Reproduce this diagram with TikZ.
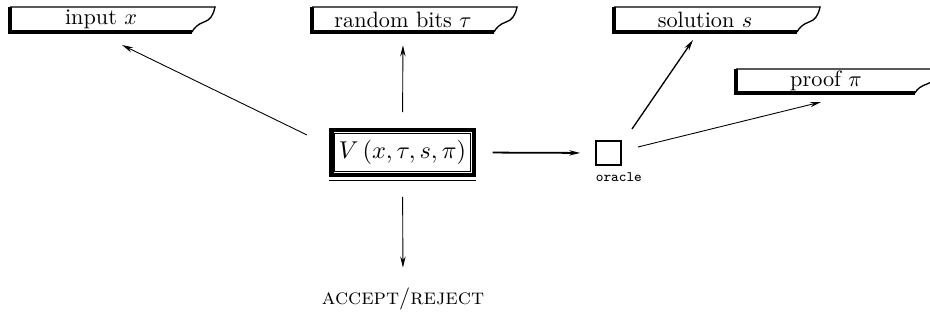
\documentclass[tikz,border=0pt]{standalone}
\usepackage{tikz}
\usepackage{amsmath}
\usetikzlibrary{arrows.meta}

% torn tape: left, right, top, bottom
\newcommand{\tapeshape}[4]{%
  \draw[semithick] (#1,#3) -- (#2,#3) .. controls (#2-2,#3+9) and (#2-5,#3+13) .. (#2-11,#3+15)
    .. controls (#2-17,#3+17) and (#2-21,#4-4) .. (#2-23,#4);
  \draw[line width=1.4pt] (#1,#3) -- (#1,#4) -- (#2-23,#4);
}

\begin{document}
\begin{tikzpicture}[x=0.45pt, y=-0.45pt]
  \tikzstyle{tapetext} = [inner sep=0pt, minimum height=11pt, font=\normalsize]
  \tikzstyle{verbox} = [rectangle, draw, line width=1.9pt, inner sep=2.5pt, minimum width=64pt, minimum height=20pt, font=\fontsize{11}{13}\selectfont]
  \tikzstyle{orabox} = [rectangle, draw, line width=0.8pt, minimum size=11pt, inner sep=0pt]
  \tikzstyle{link} = [-{Stealth[length=5pt, width=2.4pt]}, thin]

  \useasboundingbox (0,0) rectangle (930,320);

  % tapes
  \tapeshape{10}{215}{7}{32}
  \tapeshape{312}{517}{7}{32}
  \tapeshape{614}{820}{7}{32}
  \tapeshape{736}{938}{69}{93}

  \node[tapetext] (input) at (101,19.5) {input $x$};
  \node[tapetext] (bits) at (403,19.5) {random bits $\tau$};
  \node[tapetext] (sol) at (705,19.5) {solution $s$};
  \node[tapetext] (proof) at (826,81) {proof $\pi$};

  % verifier
  \node[verbox] (V) at (402.5,152.5) {$V\,(x, \tau, s, \pi)$};
  \draw[thin] ([xshift=2.5pt, yshift=-2.5pt]V.north west) rectangle ([xshift=-2.5pt, yshift=2.5pt]V.south east);
  \draw[thin] ([yshift=-1.4pt]V.south west) -- ([yshift=-1.4pt]V.south east);

  % oracle
  \node[orabox] (ora) at (608.5,153) {};
  \node[anchor=north west, inner sep=0pt, font=\ttfamily\fontsize{6.5}{7}\selectfont] (oralabel) at ([yshift=-2.8pt]ora.south west) {oracle};

  \node (verdict) at (403,299) {\textsc{accept}/\textsc{reject}};

  \coordinate (vLeft) at (307,135);
  \coordinate (inTip) at (122,45);
  \coordinate (oraUp) at (632,129);
  \coordinate (solTip) at (693,40);
  \coordinate (oraRight) at (638,147);
  \coordinate (proofTip) at (821,102);

  \draw[link] (vLeft) -- (inTip);
  \draw[link, shorten <=7.2pt, shorten >=5.9pt] (V.north) -- (bits.south);
  \draw[link, shorten <=9pt, shorten >=5.6pt] (V.south) -- (verdict.north);
  \draw[link, thick, shorten <=7.6pt, shorten >=6.8pt] (V.east) -- (ora.west);
  \draw[link, semithick] (oraUp) -- (solTip);
  \draw[link] (oraRight) -- (proofTip);
\end{tikzpicture}
\end{document}
